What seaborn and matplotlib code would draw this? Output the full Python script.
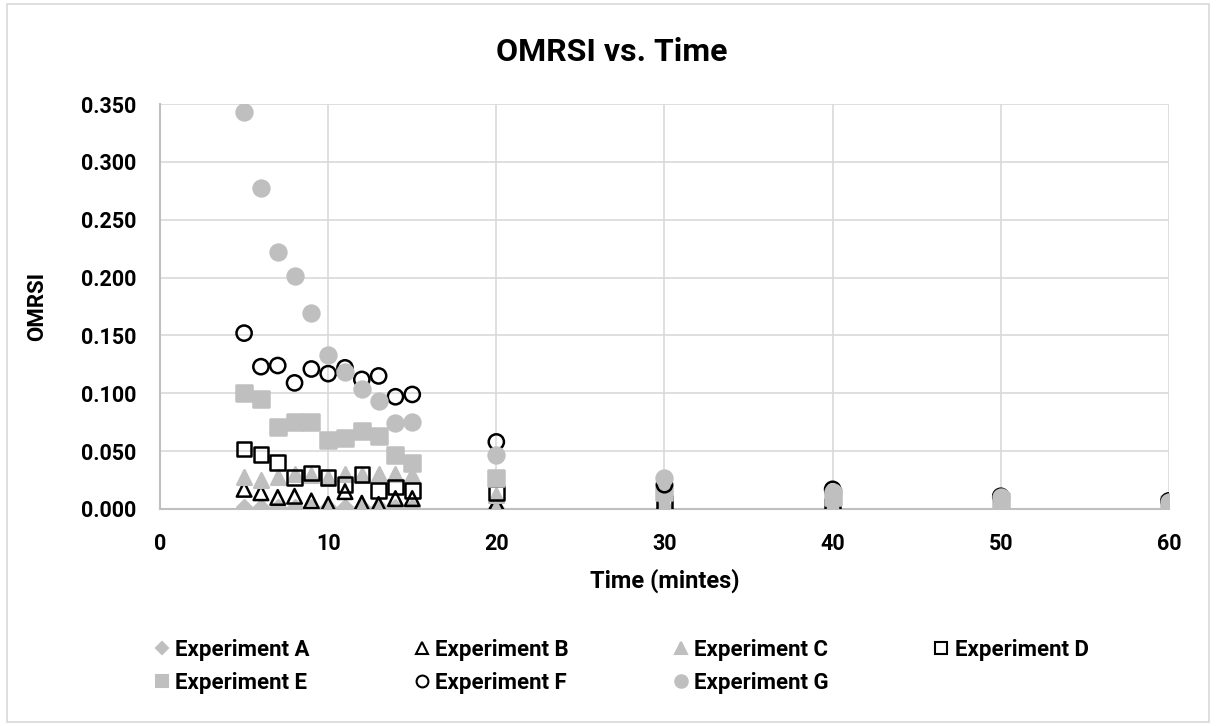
import matplotlib
matplotlib.use("Agg")
import matplotlib.pyplot as plt
import seaborn as sns
import numpy as np
from matplotlib.lines import Line2D
from matplotlib.patches import Rectangle

# Données
time_min = [5, 6, 7, 8, 9, 10, 11, 12, 13, 14, 15, 20, 30, 40, 50, 60]

exp_a = [0.002, 0.002, 0.002, 0.002, 0.002, 0.002, 0.002, 0.002, 0.002, 0.002, 0.002, 0.001, 0.001, 0.001, 0.001, 0.001]
exp_b = [0.017, 0.014, 0.010, 0.011, 0.007, 0.004, 0.015, 0.005, 0.004, 0.009, 0.009, 0.005, 0.003, 0.001, 0.001, 0.001]
exp_c = [0.028, 0.025, 0.028, 0.030, 0.029, 0.027, 0.030, 0.029, 0.030, 0.030, 0.029, 0.012, 0.007, 0.004, 0.003, 0.002]
exp_d = [0.052, 0.047, 0.040, 0.027, 0.031, 0.027, 0.021, 0.030, 0.016, 0.019, 0.016, 0.014, 0.005, 0.002, 0.001, 0.001]
exp_e = [0.100, 0.095, 0.071, 0.075, 0.075, 0.060, 0.061, 0.067, 0.063, 0.047, 0.040, 0.027, 0.015, 0.010, 0.007, 0.004]
exp_f = [0.152, 0.123, 0.124, 0.109, 0.121, 0.117, 0.122, 0.112, 0.115, 0.097, 0.099, 0.058, 0.021, 0.017, 0.011, 0.007]
exp_g = [0.343, 0.277, 0.222, 0.201, 0.169, 0.133, 0.118, 0.104, 0.093, 0.074, 0.075, 0.047, 0.027, 0.015, 0.010, 0.006]

labels = ["Experiment A", "Experiment B", "Experiment C", "Experiment D",
          "Experiment E", "Experiment F", "Experiment G"]
series = [exp_a, exp_b, exp_c, exp_d, exp_e, exp_f, exp_g]

GRAY = "#bfbfbf"
# (marker, face, edge, size, legend size)
styles = [
    ("D", GRAY, GRAY, 55, 6.5),
    ("^", "none", "black", 110, 8),
    ("^", GRAY, GRAY, 110, 8.5),
    ("s", "none", "black", 110, 8.5),
    ("s", GRAY, GRAY, 120, 9),
    ("o", "none", "black", 120, 8.5),
    ("o", GRAY, GRAY, 130, 9),
]

sns.set_style("white")
plt.rcParams['font.family'] = ['Roboto', 'DejaVu Sans']
plt.rcParams['font.weight'] = 'bold'
plt.rcParams['text.color'] = 'black'
plt.rcParams['axes.labelcolor'] = 'black'
plt.rcParams['xtick.color'] = 'black'
plt.rcParams['ytick.color'] = 'black'

fig = plt.figure(figsize=(12.16, 7.26), dpi=100)
ax = fig.add_axes([0.1316, 0.2989, 0.8297, 0.5578])

for vals, (mk, fc, ec, sz, _) in zip(series, styles):
    sns.scatterplot(x=time_min, y=vals, marker=mk, s=sz, facecolor=fc,
                    edgecolor=ec, linewidth=1.8, ax=ax, zorder=3)

ax.set_xlim(0, 60)
ax.set_ylim(0, 0.35)
ax.set_xticks(np.arange(0, 61, 10))
ax.set_yticks(np.arange(0, 0.351, 0.05))
ax.set_yticklabels([f"{v:.3f}" for v in np.arange(0, 0.351, 0.05)])
ax.grid(True, color="#d9d9d9", linewidth=1.2)
ax.set_axisbelow(True)
for side in ["top", "right"]:
    ax.spines[side].set_visible(False)
for side in ["left", "bottom"]:
    ax.spines[side].set_color(GRAY)
    ax.spines[side].set_linewidth(1.5)
ax.tick_params(axis="y", length=0, labelsize=15.5, pad=17)
ax.tick_params(axis="x", length=0, labelsize=15.5, pad=17)
for t in ax.get_xticklabels() + ax.get_yticklabels():
    t.set_fontweight("bold")

ax.set_xlabel("Time (mintes)", fontsize=17, fontweight="bold", labelpad=10)
ax.set_ylabel("OMRSI", fontsize=16, fontweight="bold", labelpad=24)
fig.text(0.503, 0.928, "OMRSI vs. Time", ha="center", va="center",
         fontsize=23, fontweight="bold")

# Légende en bas, ligne par ligne
handles = []
for (mk, fc, ec, sz, ls) in styles:
    handles.append(Line2D([], [], linestyle="none", marker=mk, markersize=ls,
                          markerfacecolor=fc, markeredgecolor=ec, markeredgewidth=1.5))
order = [0, 4, 1, 5, 2, 6, 3]
leg = fig.legend([handles[i] for i in order], [labels[i] for i in order],
                 loc="center left", bbox_to_anchor=(0.124, 0.082), ncol=4,
                 frameon=False, fontsize=16, handletextpad=0.1,
                 columnspacing=4.55, handlelength=1.0, labelspacing=0.5,
                 borderaxespad=0, borderpad=0)
for t in leg.get_texts():
    t.set_fontweight("bold")

# Bordure de la zone graphique
fig.patches.append(Rectangle((0.006, 0.006), 0.988, 0.988, transform=fig.transFigure,
                             fill=False, edgecolor="#d9d9d9", linewidth=1.2))

fig.savefig("out.png", dpi=100)
